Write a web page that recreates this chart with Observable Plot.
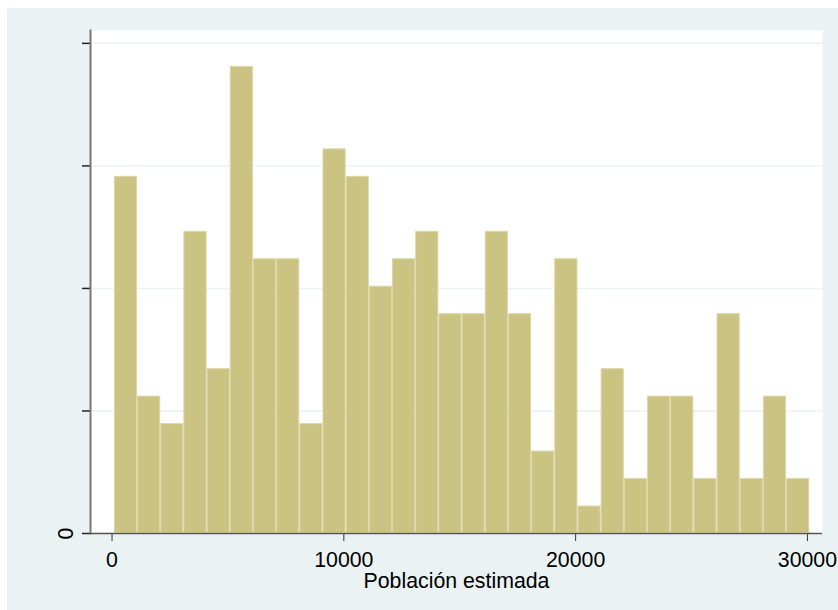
<!DOCTYPE html>
<html>
<head>
<meta charset="utf-8">
<script src="https://cdn.jsdelivr.net/npm/d3@7"></script>
<script src="https://cdn.jsdelivr.net/npm/@observablehq/plot@0.6"></script>
<style>
  html, body { margin: 0; padding: 0; background: #ffffff; }
  #wrap { position: absolute; left: 7px; top: 8px; width: 831px; height: 602px; background: #EAF2F3; }
</style>
</head>
<body>
<div id="wrap"></div>
<script>
// Histogram of "Población estimada" (density scale), 30 bins of width 1000 starting at 100
const binStart = 100;
const binWidth = 1000;
const counts = [13, 5, 4, 11, 6, 17, 10, 10, 4, 14, 13, 9, 10, 11, 8, 8, 11, 8, 3, 10, 1, 6, 2, 5, 5, 2, 8, 2, 5, 2];
const xTicks = [0, 10000, 20000, 30000];
const yTicks = [0, 0.00002, 0.00004, 0.00006, 0.00008];
const xLabel = "Población estimada";

const total = d3.sum(counts);
const bins = counts.map((c, i) => ({
  x1: binStart + i * binWidth,
  x2: binStart + (i + 1) * binWidth,
  density: c / (total * binWidth)
}));

const chart = Plot.plot({
  width: 831,
  height: 602,
  marginLeft: 83,
  marginRight: 16,
  marginTop: 22,
  marginBottom: 77,
  style: { fontFamily: "'Liberation Sans', Arial, sans-serif", fontSize: "21.3px", background: "transparent", color: "#000" },
  x: { domain: [-929, 30650] },
  y: { domain: [0, 0.0000821] },
  marks: [
    Plot.frame({ fill: "white", stroke: null }),
    Plot.gridY(yTicks, { stroke: "#EAF2F3", strokeOpacity: 1, strokeWidth: 1.5 }),
    Plot.rectY(bins, { x1: "x1", x2: "x2", y1: 0, y2: "density", fill: "#CAC382", stroke: "#DCD7A8", strokeWidth: 1, inset: 0.5 }),
    Plot.axisY({ ticks: yTicks, tickFormat: d => d === 0 ? "0" : "", tickSize: 8, tickRotate: -90, tickPadding: 10, stroke: "#222", strokeWidth: 1.5, label: null }),
    Plot.axisX({ ticks: xTicks, tickFormat: d => String(d), tickSize: 8, tickPadding: 10, stroke: "#333", strokeWidth: 1, label: xLabel, labelAnchor: "center", labelArrow: "none", labelOffset: 54 }),
    Plot.frame({ anchor: "left", stroke: "#777", strokeWidth: 2 }),
    Plot.ruleY([0], { stroke: "#555", strokeWidth: 1.5 })
  ]
});
document.getElementById("wrap").appendChild(chart);
</script>
</body>
</html>
